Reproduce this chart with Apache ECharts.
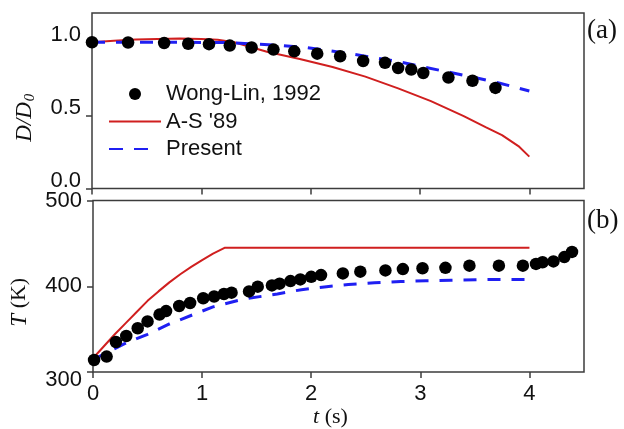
<!DOCTYPE html>
<html>
<head>
<meta charset="utf-8">
<script src="https://cdn.jsdelivr.net/npm/echarts@6/dist/echarts.min.js"></script>
<style>
  html, body { margin: 0; padding: 0; background: #fff; }
  #chart { width: 624px; height: 429px; }
</style>
</head>
<body>
<div id="chart"></div>
<script>
// Panel (a): normalised droplet diameter D/D0 versus time
const wongLinTimeA = [0, 0.33, 0.66, 0.88, 1.07, 1.26, 1.46, 1.66, 1.85, 2.06, 2.27, 2.48, 2.68, 2.80, 2.92, 3.03, 3.26, 3.48, 3.69];
const wongLinDiam = [1.0, 0.998, 0.995, 0.99, 0.987, 0.977, 0.964, 0.95, 0.938, 0.922, 0.904, 0.872, 0.859, 0.824, 0.813, 0.790, 0.759, 0.737, 0.688];

const asTimeA = [0, 0.2, 0.4, 0.6, 0.8, 1.0, 1.15, 1.3, 1.45, 1.6, 1.9, 2.2, 2.5, 2.8, 3.1, 3.4, 3.6, 3.75, 3.9, 4.0];
const asDiam = [1.0, 1.01, 1.018, 1.023, 1.025, 1.023, 1.017, 1.0, 0.968, 0.935, 0.885, 0.831, 0.765, 0.685, 0.597, 0.495, 0.42, 0.365, 0.29, 0.218];

const presentTimeA = [0, 0.4, 0.8, 1.2, 1.45, 1.7, 1.95, 2.14, 2.35, 2.58, 2.81, 3.05, 3.28, 3.51, 3.73, 4.0];
const presentDiam = [1.0, 1.0, 1.0, 0.998, 0.99, 0.98, 0.965, 0.945, 0.923, 0.895, 0.866, 0.828, 0.793, 0.757, 0.72, 0.667];

// Panel (b): droplet temperature T (K) versus time
const wongLinTimeB = [0.01, 0.125, 0.21, 0.305, 0.41, 0.50, 0.61, 0.67, 0.79, 0.89, 1.01, 1.11, 1.20, 1.27, 1.43, 1.51, 1.64, 1.71, 1.81, 1.90, 2.00, 2.09, 2.29, 2.45, 2.68, 2.84, 3.02, 3.23, 3.45, 3.72, 3.94, 4.06, 4.12, 4.22, 4.32, 4.39];
const wongLinTemp = [314, 318, 335, 342, 351, 359, 367, 371, 377, 380.5, 386, 388, 391, 392.5, 394, 399.5, 401, 403, 406, 408, 411, 413, 415, 417, 418.5, 420, 421, 421.5, 424, 424, 424, 426, 428, 429, 434, 440];

const asTimeB = [0, 0.1, 0.2, 0.3, 0.4, 0.5, 0.6, 0.7, 0.8, 0.9, 1.0, 1.1, 1.21, 2.0, 3.0, 4.0];
const asTemp = [316, 330, 344, 357, 370, 383, 394, 404.5, 414, 422.5, 430.5, 438, 445, 445, 445, 445];

const presentTimeB = [0, 0.1, 0.29, 0.5, 0.7, 0.91, 1.1, 1.38, 1.69, 1.91, 2.14, 2.34, 2.58, 2.82, 3.05, 3.28, 3.51, 3.73, 4.0];
const presentTemp = [314, 321, 333, 344, 356, 366.5, 376, 385, 391, 396, 399.5, 402, 404, 405.5, 406.5, 407, 407.5, 408, 408];

// Axis tick positions
const timeTicks = [0, 1, 2, 3, 4];
const diamTicks = [0, 0.5, 1.0];
const tempTicks = [300, 400, 500];

const SERIES_NAMES = ['Wong-Lin, 1992', "A-S '89", 'Present'];

const SANS = '"Liberation Sans", Arial, sans-serif';
const SERIF = '"Liberation Serif", "Times New Roman", serif';
const RED = '#d01f1f';
const BLUE = '#1f1ff2';
const FRAME = '#3c3c3c';
const INK = '#111';
const DASH = [13, 11];

const pairs = (xs, ys) => xs.map((x, i) => [x, ys[i]]);

const labelFont = { color: INK, fontFamily: SANS, fontSize: 22 };

function valueAxis(gridIndex, min, max, ticks, extra) {
  return Object.assign({
    type: 'value',
    gridIndex: gridIndex,
    min: min,
    max: max,
    splitLine: { show: false },
    axisLine: { show: false },
    axisTick: {
      show: true, inside: false, length: 6, customValues: ticks,
      lineStyle: { color: FRAME, width: 1.5 }
    },
    axisLabel: Object.assign({ show: true, customValues: ticks, margin: 11 }, labelFont)
  }, extra || {});
}

const chart = echarts.init(document.getElementById('chart'), null, { renderer: 'canvas' });

const gridBase = {
  left: 92, right: 40, height: 175.5,
  show: true, borderColor: FRAME, borderWidth: 1.5,
  backgroundColor: 'transparent', containLabel: false
};

const panelTag = { fontFamily: SERIF, fontSize: 27, fontWeight: 'normal', color: INK };

const option = {
  animation: false,
  backgroundColor: '#fff',
  title: [
    { text: '(a)', left: 582, top: 12, textStyle: panelTag },
    { text: '(b)', left: 582, top: 202, textStyle: panelTag }
  ],
  legend: {
    data: [
      { name: SERIES_NAMES[0] },
      { name: SERIES_NAMES[1], itemStyle: { opacity: 0 } },
      { name: SERIES_NAMES[2], itemStyle: { opacity: 0 }, lineStyle: { type: [14, 11, 14, 13] } }
    ],
    orient: 'vertical',
    left: 103,
    top: 78,
    itemWidth: 52,
    itemHeight: 12,
    itemGap: 5.5,
    selectedMode: false,
    textStyle: { fontFamily: SANS, fontSize: 22, lineHeight: 22, color: INK }
  },
  grid: [
    Object.assign({ top: 13 }, gridBase),
    Object.assign({ top: 200.5 }, gridBase)
  ],
  xAxis: [
    valueAxis(0, 0, 4.5, timeTicks, { axisLabel: { show: false } }),
    valueAxis(1, 0, 4.5, timeTicks, {
      name: '{it|t} (s)',
      nameLocation: 'middle',
      nameGap: 34,
      nameTextStyle: {
        fontFamily: SERIF, fontSize: 22, color: INK, padding: [0, 16, 0, 0],
        rich: { it: { fontFamily: SERIF, fontSize: 22, fontStyle: 'italic', color: INK } }
      }
    })
  ],
  yAxis: [
    valueAxis(0, 0, 1.2, diamTicks, {
      // labels of the upper panel sit on their tick rather than centred on it
      axisLabel: Object.assign({
        show: true, customValues: diamTicks, margin: 11,
        formatter: v => '{up|' + v.toFixed(1) + '}',
        rich: { up: Object.assign({ padding: [0, 0, 15, 0] }, labelFont) }
      }, labelFont),
      name: '{it|D/D}{sub|0}',
      nameLocation: 'middle',
      nameRotate: 90,
      nameGap: 54,
      nameTextStyle: {
        fontFamily: SERIF, fontSize: 22, color: INK, padding: [0, 34, 0, 0],
        rich: {
          it: { fontFamily: SERIF, fontSize: 23, fontStyle: 'italic', color: INK },
          sub: { fontFamily: SERIF, fontSize: 15, fontStyle: 'italic', color: INK, padding: [12, 0, 0, 1] }
        }
      }
    }),
    valueAxis(1, 300, 500, tempTicks, {
      axisLabel: Object.assign({
        show: true, customValues: tempTicks, margin: 11,
        formatter: v => (v === 300 ? '{low|300}' : String(v)),
        rich: { low: Object.assign({ padding: [15, 0, 0, 0] }, labelFont) }
      }, labelFont),
      name: '{it|T} (K)',
      nameLocation: 'middle',
      nameRotate: 90,
      nameGap: 62,
      nameTextStyle: {
        fontFamily: SERIF, fontSize: 22, color: INK, padding: [0, 32, 0, 0],
        rich: { it: { fontFamily: SERIF, fontSize: 23, fontStyle: 'italic', color: INK } }
      }
    })
  ],
  series: [
    {
      name: SERIES_NAMES[1], type: 'line', xAxisIndex: 0, yAxisIndex: 0,
      data: pairs(asTimeA, asDiam), showSymbol: false, symbol: 'none',
      lineStyle: { color: RED, width: 2 }, itemStyle: { color: RED }, z: 2
    },
    {
      name: SERIES_NAMES[2], type: 'line', xAxisIndex: 0, yAxisIndex: 0,
      data: pairs(presentTimeA, presentDiam), showSymbol: false, symbol: 'none',
      lineStyle: { color: BLUE, width: 3, type: DASH }, itemStyle: { color: BLUE }, z: 3
    },
    {
      name: SERIES_NAMES[0], type: 'scatter', xAxisIndex: 0, yAxisIndex: 0,
      data: pairs(wongLinTimeA, wongLinDiam), symbol: 'circle', symbolSize: 12.5,
      itemStyle: { color: '#000', opacity: 1 }, z: 4
    },
    {
      name: SERIES_NAMES[1], type: 'line', xAxisIndex: 1, yAxisIndex: 1,
      data: pairs(asTimeB, asTemp), showSymbol: false, symbol: 'none',
      lineStyle: { color: RED, width: 2 }, itemStyle: { color: RED }, z: 2
    },
    {
      name: SERIES_NAMES[2], type: 'line', xAxisIndex: 1, yAxisIndex: 1,
      data: pairs(presentTimeB, presentTemp), showSymbol: false, symbol: 'none',
      lineStyle: { color: BLUE, width: 3, type: DASH }, itemStyle: { color: BLUE }, z: 3
    },
    {
      name: SERIES_NAMES[0], type: 'scatter', xAxisIndex: 1, yAxisIndex: 1,
      data: pairs(wongLinTimeB, wongLinTemp), symbol: 'circle', symbolSize: 12.5,
      itemStyle: { color: '#000', opacity: 1 }, z: 4
    }
  ]
};

chart.setOption(option);
</script>
</body>
</html>
